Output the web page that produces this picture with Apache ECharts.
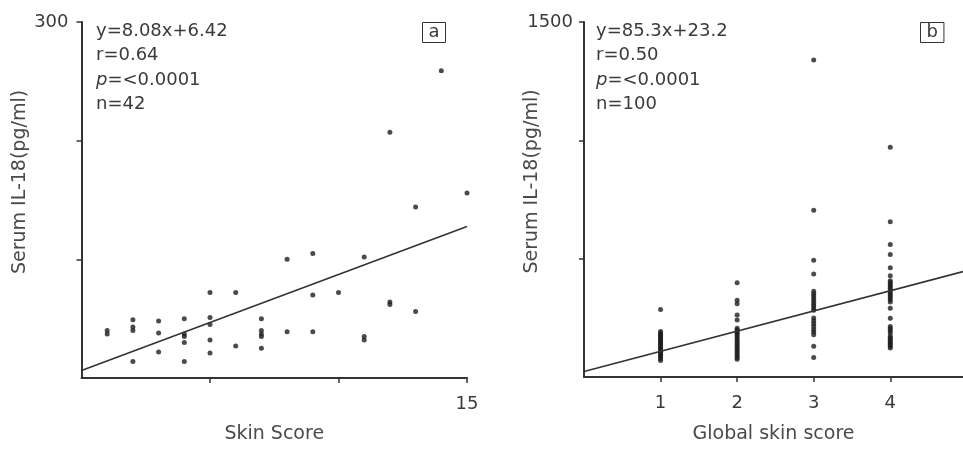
<!DOCTYPE html>
<html>
<head>
<meta charset="utf-8">
<script src="https://cdn.jsdelivr.net/npm/echarts@6/dist/echarts.min.js"></script>
<style>
  html, body { margin: 0; padding: 0; background: #fff; }
  #main { width: 963px; height: 449px; }
</style>
</head>
<body>
<div id="main"></div>
<script>
// panel a: skin score vs serum IL-18
const skinScoreA = [1, 1, 2, 2, 2, 2, 3, 3, 3, 4, 4, 4, 4, 4, 5, 5, 5, 5, 5, 6, 6,
  7, 7, 7, 7, 7, 8, 8, 9, 9, 9, 10, 11, 11, 11, 12, 12, 12, 13, 13, 14, 15];
const il18A = [40, 37, 49, 43, 40, 14, 48, 38, 22, 50, 37, 35, 30, 14, 72, 51, 45, 32, 21, 72, 27,
  50, 40, 37, 35, 25, 100, 39, 105, 70, 39, 72, 102, 35, 32, 207, 64, 62, 144, 56, 259, 156];
const fitA = [8.08, 6.42]; // slope, intercept
const statsA = ['y=8.08x+6.42', 'r=0.64', '{i|p}=<0.0001', 'n=42'];

// panel b: global skin score (1-4) vs serum IL-18
const grade1 = [285, 192, 186, 180, 174, 168, 162, 156, 150, 144, 138, 132, 126, 120, 114, 108, 102, 96, 90, 84, 77, 70];
const grade2 = [398, 324, 310, 262, 241, 206, 199, 192, 185, 178, 170, 162, 154, 146, 138, 130, 122, 114, 106, 98, 90, 82, 75];
const grade3 = [1339, 705, 493, 435, 362, 352, 342, 332, 322, 312, 302, 292, 282, 249, 237, 225, 213, 201, 190, 179, 130, 82];
const grade4 = [971, 656, 560, 518, 462, 428, 407, 399, 391, 383, 375, 367, 359, 351, 343, 335, 326, 317,
  290, 248, 213, 204, 195, 186, 172, 165, 158, 151, 144, 137, 130, 123];
const fitB = [85.3, 23.2];
const statsB = ['y=85.3x+23.2', 'r=0.50', '{i|p}=<0.0001', 'n=100'];

const FONT = 'DejaVu Sans';
const INK = '#333';
const TXT = '#3a3a3a';

const pointsA = skinScoreA.map((x, i) => [x, il18A[i]]);
const pointsB = [];
[grade1, grade2, grade3, grade4].forEach((vals, g) => {
  vals.forEach(v => pointsB.push([g + 1, v]));
});

const xMaxB = 4.95;
const lineA = [[0, fitA[1]], [15, fitA[0] * 15 + fitA[1]]];
const lineB = [[0, fitB[1]], [xMaxB, fitB[0] * xMaxB + fitB[1]]];

function axisBase() {
  return {
    nameMoveOverlap: false,
    axisLine: { lineStyle: { color: INK, width: 2 } },
    axisTick: { length: 5, lineStyle: { color: INK, width: 1.5 } },
    axisLabel: { color: TXT, fontFamily: FONT, fontSize: 18, formatter: v => String(v) },
    splitLine: { show: false },
    nameTextStyle: { color: '#4a4a4a', fontFamily: FONT, fontSize: 19 }
  };
}

function merge(a, b) {
  const out = Object.assign({}, a, b);
  ['axisLine', 'axisTick', 'axisLabel', 'nameTextStyle'].forEach(k => {
    if (a[k] && b[k]) out[k] = Object.assign({}, a[k], b[k]);
  });
  return out;
}

function statsText(lines, left) {
  return {
    type: 'text',
    left: left,
    top: 19,
    style: {
      text: lines.join('\n'),
      fill: TXT,
      fontFamily: FONT,
      fontSize: 18,
      lineHeight: 24.5,
      rich: { i: { fontStyle: 'italic', fontFamily: FONT, fontSize: 18, lineHeight: 24.5, fill: TXT } }
    }
  };
}

function boxLabel(t, left) {
  return {
    type: 'text',
    left: left,
    top: 22,
    style: {
      text: t,
      fill: TXT,
      fontFamily: FONT,
      fontSize: 18,
      lineHeight: 20,
      padding: [0, 6, 0, 6],
      borderColor: INK,
      borderWidth: 1
    }
  };
}

const chart = echarts.init(document.getElementById('main'));
chart.setOption({
  backgroundColor: '#fff',
  animation: false,
  grid: [
    { left: 81.5, top: 22, width: 385.5, height: 362 },
    { left: 584, top: 22, width: 379, height: 361 }
  ],
  xAxis: [
    merge(axisBase(), {
      gridIndex: 0, type: 'value', min: 0, max: 15,
      name: 'Skin Score', nameLocation: 'middle', nameGap: 47,
      axisTick: { customValues: [5, 10, 15] },
      axisLabel: { customValues: [15], margin: 17 }
    }),
    merge(axisBase(), {
      gridIndex: 1, type: 'value', min: 0, max: xMaxB,
      name: 'Global skin score', nameLocation: 'middle', nameGap: 48,
      axisTick: { customValues: [1, 2, 3, 4] },
      axisLabel: { customValues: [1, 2, 3, 4], margin: 17 }
    })
  ],
  yAxis: [
    merge(axisBase(), {
      gridIndex: 0, type: 'value', min: 0, max: 300,
      name: 'Serum IL-18(pg/ml)', nameLocation: 'middle', nameGap: 52,
      nameTextStyle: { padding: [0, 0, 0, 36] },
      axisTick: { customValues: [100, 200, 300] },
      axisLabel: { customValues: [300], margin: 13 }
    }),
    merge(axisBase(), {
      gridIndex: 1, type: 'value', min: 0, max: 1500,
      name: 'Serum IL-18(pg/ml)', nameLocation: 'middle', nameGap: 42,
      nameTextStyle: { padding: [0, 0, 0, 36] },
      axisTick: { customValues: [500, 1000, 1500] },
      axisLabel: { customValues: [1500], margin: 11 }
    })
  ],
  graphic: [
    statsText(statsA, 96),
    statsText(statsB, 596),
    boxLabel('a', 422),
    boxLabel('b', 920)
  ],
  series: [
    {
      type: 'scatter', xAxisIndex: 0, yAxisIndex: 0, data: pointsA,
      symbol: 'circle', symbolSize: 5, itemStyle: { color: '#1e1e1e' }
    },
    {
      type: 'line', xAxisIndex: 0, yAxisIndex: 0, data: lineA,
      symbol: 'none', lineStyle: { color: INK, width: 1.6 }
    },
    {
      type: 'scatter', xAxisIndex: 1, yAxisIndex: 1, data: pointsB,
      symbol: 'circle', symbolSize: 5, itemStyle: { color: '#1e1e1e' }
    },
    {
      type: 'line', xAxisIndex: 1, yAxisIndex: 1, data: lineB,
      symbol: 'none', lineStyle: { color: INK, width: 1.6 }
    }
  ]
});
</script>
</body>
</html>
